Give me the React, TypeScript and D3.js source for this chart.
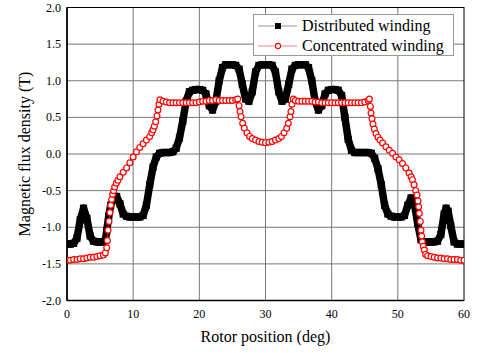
import * as d3 from "d3";
import React from "react";

// Distributed winding (deg, T)
const distributed: [number, number][] = [
  [0, -1.23], [0.5, -1.23], [1.0, -1.22], [1.5, -1.15], [2.0, -0.9], [2.5, -0.74], [3.0, -0.88],
  [3.5, -1.12], [4.0, -1.19], [4.5, -1.2], [5.0, -1.2], [5.5, -1.2], [5.8, -1.18], [6.0, -1.05],
  [6.3, -0.85], [6.6, -0.7], [7.0, -0.62], [7.5, -0.58], [8.0, -0.68], [8.5, -0.82], [9.0, -0.85],
  [9.5, -0.86], [10.0, -0.86], [10.5, -0.86], [11.0, -0.86], [11.5, -0.84], [12.0, -0.7],
  [12.5, -0.42], [13.0, -0.18], [13.5, -0.04], [14.0, 0.01], [14.5, 0.02], [15.0, 0.02],
  [15.5, 0.02], [16.0, 0.03], [16.5, 0.08], [17.0, 0.22], [17.5, 0.45], [18.0, 0.72], [18.5, 0.85],
  [19.0, 0.87], [19.5, 0.88], [20.0, 0.88], [20.5, 0.87], [21.0, 0.82], [21.5, 0.66], [22.0, 0.6],
  [22.5, 0.72], [23.0, 1.0], [23.5, 1.18], [24.0, 1.22], [24.5, 1.22], [25.0, 1.22], [25.5, 1.21],
  [26.0, 1.16], [26.5, 0.95], [27.0, 0.75], [27.5, 0.72], [28.0, 0.85], [28.5, 1.12], [29.0, 1.21],
  [29.5, 1.22], [30.0, 1.22], [30.5, 1.22], [31.0, 1.21], [31.5, 1.12], [32.0, 0.85], [32.5, 0.72],
  [33.0, 0.75], [33.5, 0.95], [34.0, 1.16], [34.5, 1.21], [35.0, 1.22], [35.5, 1.22], [36.0, 1.22],
  [36.5, 1.18], [37.0, 1.0], [37.5, 0.72], [38.0, 0.6], [38.5, 0.66], [39.0, 0.82], [39.5, 0.87],
  [40.0, 0.88], [40.5, 0.88], [41.0, 0.87], [41.5, 0.8], [42.0, 0.5], [42.5, 0.2], [43.0, 0.05],
  [43.5, 0.02], [44.0, 0.02], [44.5, 0.02], [45.0, 0.02], [45.5, 0.02], [46.0, 0.01], [46.5, -0.06],
  [47.0, -0.2], [47.5, -0.42], [48.0, -0.7], [48.5, -0.82], [49.0, -0.85], [49.5, -0.86],
  [50.0, -0.86], [50.5, -0.86], [51.0, -0.84], [51.5, -0.7], [52.0, -0.6], [52.5, -0.68],
  [53.0, -0.95], [53.5, -1.17], [54.0, -1.2], [54.5, -1.2], [55.0, -1.2], [55.5, -1.2],
  [56.0, -1.19], [56.5, -1.1], [57.0, -0.82], [57.3, -0.74], [57.6, -0.78], [58.0, -0.98],
  [58.5, -1.2], [59.0, -1.23], [59.5, -1.23], [60.0, -1.23],
];

// Concentrated winding (deg, T)
const concentrated: [number, number][] = [
  [0, -1.45], [0.5, -1.45], [1.0, -1.44], [1.5, -1.44], [2.0, -1.43], [2.5, -1.43], [3.0, -1.42],
  [3.5, -1.41], [4.0, -1.41], [4.5, -1.4], [5.0, -1.39], [5.5, -1.38], [5.8, -1.35], [6.0, -1.28],
  [6.1, -1.18], [6.2, -1.04], [6.35, -0.92], [6.5, -0.8], [6.6, -0.7], [6.75, -0.62], [6.9, -0.55],
  [7.05, -0.5], [7.2, -0.45], [7.45, -0.4], [7.7, -0.36], [8.0, -0.31], [8.5, -0.25], [9.0, -0.19],
  [9.5, -0.12], [10.0, -0.04], [10.5, 0.03], [11.0, 0.09], [11.5, 0.14], [12.0, 0.19], [12.5, 0.24],
  [12.8, 0.29], [13.0, 0.33], [13.2, 0.38], [13.4, 0.44], [13.6, 0.52], [13.75, 0.6], [13.9, 0.68],
  [14.05, 0.74], [14.5, 0.72], [15.0, 0.71], [15.5, 0.7], [16.0, 0.7], [16.5, 0.7], [17.0, 0.7],
  [17.5, 0.7], [18.0, 0.7], [18.5, 0.7], [19.0, 0.7], [19.5, 0.7], [20.0, 0.71], [20.5, 0.72],
  [21.0, 0.72], [21.5, 0.73], [22.0, 0.73], [22.5, 0.74], [23.0, 0.73], [23.5, 0.73], [24.0, 0.73],
  [24.5, 0.73], [25.0, 0.73], [25.5, 0.74], [25.8, 0.75], [26.0, 0.66], [26.15, 0.58], [26.3, 0.51],
  [26.55, 0.42], [26.8, 0.35], [27.2, 0.29], [27.6, 0.24], [28.0, 0.21], [28.5, 0.19], [29.0, 0.17],
  [29.5, 0.16], [30.0, 0.155], [30.5, 0.16], [31.0, 0.17], [31.5, 0.19], [32.0, 0.21], [32.4, 0.24],
  [32.8, 0.29], [33.2, 0.35], [33.45, 0.42], [33.7, 0.51], [33.85, 0.58], [34.0, 0.68], [34.2, 0.75],
  [34.5, 0.73], [35.0, 0.72], [35.5, 0.72], [36.0, 0.72], [36.5, 0.72], [37.0, 0.72], [37.5, 0.71],
  [38.0, 0.71], [38.5, 0.7], [39.0, 0.7], [39.5, 0.7], [40.0, 0.7], [40.5, 0.7], [41.0, 0.7],
  [41.5, 0.7], [42.0, 0.7], [42.5, 0.7], [43.0, 0.7], [43.5, 0.7], [44.0, 0.7], [44.5, 0.7],
  [45.0, 0.71], [45.5, 0.73], [45.7, 0.75], [45.85, 0.65], [45.95, 0.56], [46.1, 0.48], [46.25, 0.41],
  [46.45, 0.34], [46.7, 0.28], [47.0, 0.23], [47.3, 0.19], [47.7, 0.15], [48.2, 0.1], [48.7, 0.05],
  [49.2, 0.01], [49.7, -0.04], [50.2, -0.08], [50.7, -0.13], [51.2, -0.19], [51.7, -0.26],
  [52.0, -0.31], [52.2, -0.35], [52.45, -0.42], [52.7, -0.5], [52.9, -0.56], [53.05, -0.64],
  [53.15, -0.72], [53.25, -0.81], [53.4, -0.92], [53.5, -1.04], [53.6, -1.12], [53.7, -1.2],
  [53.85, -1.26], [54.0, -1.31], [54.2, -1.37], [54.5, -1.39], [55.0, -1.4], [55.5, -1.41],
  [56.0, -1.42], [56.5, -1.42], [57.0, -1.43], [57.5, -1.43], [58.0, -1.44], [58.5, -1.44],
  [59.0, -1.44], [59.5, -1.45], [60.0, -1.45],
];

const xTicks = [0, 10, 20, 30, 40, 50, 60];
const yTicks = [-2.0, -1.5, -1.0, -0.5, 0.0, 0.5, 1.0, 1.5, 2.0];
const legendLabels = ["Distributed winding", "Concentrated winding"];

const W = 480;
const H = 353;
const plot = { left: 67, right: 464, top: 7.5, bottom: 300.5 };
const serif = { fontFamily: "Liberation Serif" };

const App: React.FC = () => {
  const x = d3.scaleLinear().domain([0, 60]).range([plot.left, plot.right]);
  const y = d3.scaleLinear().domain([-2, 2]).range([plot.bottom, plot.top]);
  const line = d3
    .line<[number, number]>()
    .x((d) => x(d[0]))
    .y((d) => y(d[1]));

  return (
    <svg width={W} height={H} style={{ position: "absolute", left: 0, top: 0, background: "#fff" }}>
      <defs>
        <clipPath id="plotClip">
          <rect x={plot.left} y={plot.top} width={plot.right - plot.left} height={plot.bottom - plot.top} />
        </clipPath>
      </defs>

      {/* grid */}
      <g stroke="#777" strokeWidth={1}>
        {xTicks.slice(1, -1).map((t) => (
          <line key={"gx" + t} x1={x(t)} x2={x(t)} y1={plot.top} y2={plot.bottom} />
        ))}
        {yTicks.slice(1, -1).map((t) => (
          <line key={"gy" + t} x1={plot.left} x2={plot.right} y1={y(t)} y2={y(t)} />
        ))}
      </g>

      {/* frame */}
      <rect
        x={plot.left}
        y={plot.top}
        width={plot.right - plot.left}
        height={plot.bottom - plot.top}
        fill="none"
        stroke="#000"
        strokeWidth={1}
      />
      <line x1={plot.left} x2={plot.left} y1={plot.top} y2={plot.bottom} stroke="#000" strokeWidth={1.6} />
      <line x1={plot.left} x2={plot.right} y1={plot.bottom} y2={plot.bottom} stroke="#000" strokeWidth={1.6} />

      {/* series */}
      <g clipPath="url(#plotClip)">
        <path d={line(distributed) ?? ""} fill="none" stroke="#000" strokeWidth={7.5} strokeLinejoin="round" />
        {distributed.map((d, i) => (
          <rect key={"d" + i} x={x(d[0]) - 3.6} y={y(d[1]) - 3.6} width={7.2} height={7.2} fill="#000" />
        ))}
        <path d={line(concentrated) ?? ""} fill="none" stroke="#f00" strokeWidth={1} />
        {concentrated.map((d, i) => (
          <circle key={"c" + i} cx={x(d[0])} cy={y(d[1])} r={2.9} fill="#fff" stroke="#f00" strokeWidth={1.2} />
        ))}
      </g>

      {/* tick labels */}
      {xTicks.map((t) => (
        <text key={"tx" + t} x={x(t)} y={318} textAnchor="middle" fontSize={12} style={serif}>
          {t}
        </text>
      ))}
      {yTicks.map((t) => (
        <text key={"ty" + t} x={61} y={y(t) + 4} textAnchor="end" fontSize={12} style={serif}>
          {t.toFixed(1)}
        </text>
      ))}

      {/* axis titles */}
      <text x={(plot.left + plot.right) / 2} y={342} textAnchor="middle" fontSize={16} style={serif}>
        Rotor position (deg)
      </text>
      <text
        transform={`translate(30, ${(plot.top + plot.bottom) / 2}) rotate(-90)`}
        textAnchor="middle"
        fontSize={16}
        style={serif}
      >
        Magnetic flux density (T)
      </text>

      {/* legend */}
      <g>
        <rect x={253.5} y={14.5} width={200} height={41} fill="#fff" stroke="#999" strokeWidth={1} />
        <line x1={258} x2={297} y1={26} y2={26} stroke="#999" strokeWidth={1} />
        <rect x={275} y={23} width={6} height={6} fill="#000" />
        <text x={302} y={31} fontSize={16} style={serif}>
          {legendLabels[0]}
        </text>
        <line x1={258} x2={297} y1={46} y2={46} stroke="#e88" strokeWidth={1} />
        <circle cx={278} cy={46} r={2.6} fill="#fff" stroke="#f00" strokeWidth={1.1} />
        <text x={302} y={51} fontSize={16} style={serif}>
          {legendLabels[1]}
        </text>
      </g>
    </svg>
  );
};

export default App;
